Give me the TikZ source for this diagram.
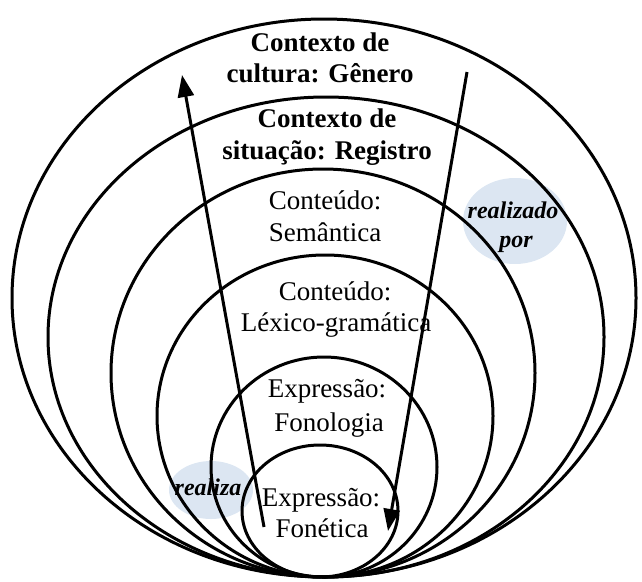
\documentclass[tikz,border=0pt]{standalone}
\usepackage{fontspec}
\setmainfont{Liberation Serif}
\usetikzlibrary{arrows.meta}
\definecolor{bubble}{RGB}{220,230,242}
\begin{document}
\begin{tikzpicture}[x=1pt,y=-1pt,
  ring/.style={draw=black,line width=3pt},
  boldlbl/.style={font=\fontsize{27}{32}\selectfont\bfseries,anchor=base,inner sep=0pt},
  lbl/.style={font=\fontsize{27}{32}\selectfont,anchor=base,inner sep=0pt},
  itlbl/.style={font=\fontsize{24}{28}\selectfont\bfseries\itshape,anchor=base,inner sep=0pt},
  flow/.style={line width=3pt,-{Triangle[length=22pt,width=16pt]}}]
\useasboundingbox (0,0) rectangle (642,581);
% bubbles
\fill[bubble] (515,221) ellipse [x radius=52, y radius=43];
\fill[bubble] (211,490) ellipse [x radius=42, y radius=29];
% rings
\draw[ring] (324,298) ellipse [x radius=312, y radius=279];
\draw[ring] (326,337) ellipse [x radius=278, y radius=240];
\draw[ring] (323,373) ellipse [x radius=212, y radius=204];
\draw[ring] (325,416) ellipse [x radius=168, y radius=161];
\draw[ring] (324,467) ellipse [x radius=113, y radius=110];
\draw[ring] (320,511) ellipse [x radius=78, y radius=66];
% labels
\node[boldlbl] (c1) at (320,51) {Contexto de};
\node[boldlbl] (c2) at (320,82) {cultura: Gênero};
\node[boldlbl] (s1) at (327,127) {Contexto de};
\node[boldlbl] (s2) at (327,159) {situação: Registro};
\node[lbl] (m1) at (325,209) {Conteúdo:};
\node[lbl] (m2) at (325,241) {Semântica};
\node[lbl] (l1) at (335,300) {Conteúdo:};
\node[lbl] (l2) at (336,331) {Léxico-gramática};
\node[lbl] (f1) at (327,397) {Expressão:};
\node[lbl] (f2) at (329,431) {Fonologia};
\node[lbl] (e1) at (321,506) {Expressão:};
\node[lbl] (e2) at (322,537) {Fonética};
\node[itlbl] (rp1) at (513,218) {realizado};
\node[itlbl] (rp2) at (516,247) {por};
\node[itlbl] (rz) at (208,495) {realiza};
% arrows
\coordinate (upS) at (264,527);
\coordinate (upE) at (182,75);
\coordinate (dnS) at (467,72);
\coordinate (dnE) at (388,531);
\draw[flow] (upS) -- (upE);
\draw[flow] (dnS) -- (dnE);
\end{tikzpicture}
\end{document}
